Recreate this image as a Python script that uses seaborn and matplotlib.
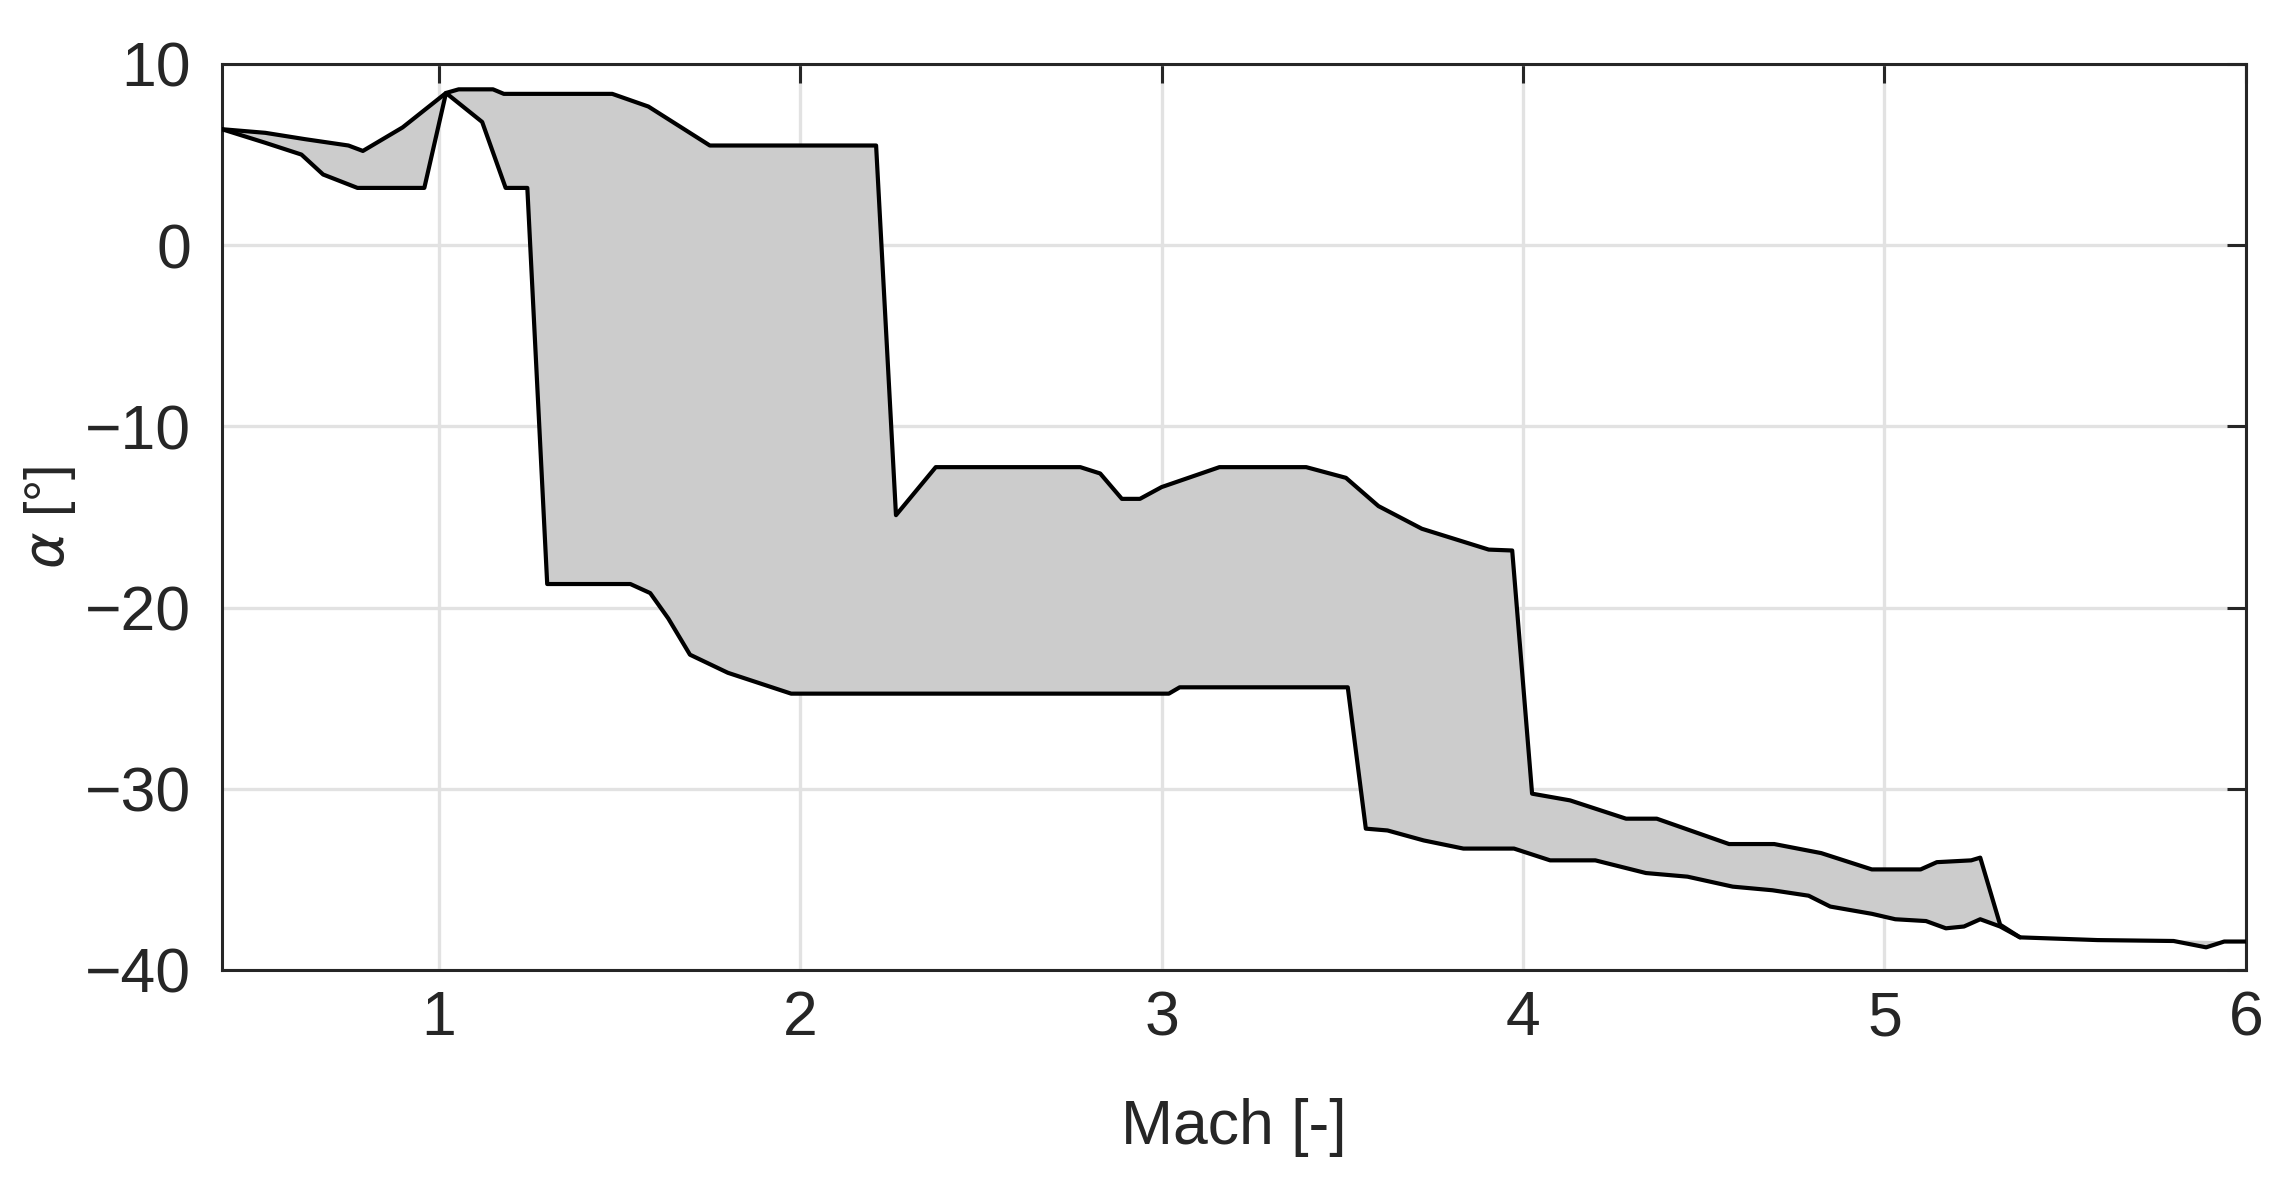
import numpy as np
import pandas as pd
import matplotlib
matplotlib.use("Agg")
import matplotlib.pyplot as plt
import seaborn as sns

# ---- data ----
mach_upper = [0.40, 0.52, 0.63, 0.75, 0.79, 0.90, 1.02, 1.055, 1.15, 1.18, 1.48, 1.58, 1.75,
              2.21, 2.265, 2.375, 2.775, 2.83, 2.89, 2.94, 3.00, 3.16, 3.40, 3.51, 3.60,
              3.72, 3.905, 3.97, 4.025, 4.13, 4.285, 4.37, 4.57, 4.695, 4.825, 4.965, 5.10,
              5.145, 5.24, 5.265, 5.32, 5.375, 5.59, 5.80, 5.89, 5.94, 6.00]
alpha_upper = [6.4, 6.2, 5.85, 5.5, 5.2, 6.5, 8.4, 8.6, 8.6, 8.35, 8.35, 7.65, 5.5,
               5.5, -14.9, -12.25, -12.25, -12.6, -14.0, -14.0, -13.35, -12.25, -12.25, -12.84, -14.4,
               -15.65, -16.8, -16.85, -30.27, -30.64, -31.65, -31.65, -33.05, -33.05, -33.55, -34.45, -34.45,
               -34.05, -33.95, -33.8, -37.5, -38.2, -38.35, -38.4, -38.75, -38.43, -38.43]

mach_lower = [0.40, 0.52, 0.62, 0.68, 0.775, 0.96, 1.02, 1.12, 1.185, 1.245, 1.30, 1.53,
              1.585, 1.635, 1.695, 1.80, 1.975, 3.02, 3.05, 3.515, 3.565, 3.625, 3.725,
              3.835, 3.975, 4.075, 4.20, 4.34, 4.455, 4.58, 4.69, 4.79, 4.85, 4.965, 5.03,
              5.115, 5.17, 5.22, 5.265, 5.32, 5.375]
alpha_lower = [6.4, 5.65, 5.0, 3.9, 3.16, 3.16, 8.4, 6.8, 3.16, 3.16, -18.7, -18.7,
               -19.2, -20.6, -22.6, -23.6, -24.75, -24.75, -24.4, -24.4, -32.2, -32.3, -32.85,
               -33.3, -33.3, -33.95, -33.95, -34.65, -34.85, -35.4, -35.6, -35.9, -36.5, -36.9, -37.2,
               -37.3, -37.7, -37.6, -37.2, -37.6, -38.2]

x_ticks = [1, 2, 3, 4, 5, 6]
y_ticks = [-40, -30, -20, -10, 0, 10]

# ---- style ----
sns.set_theme(style="whitegrid")
plt.rcParams['font.family'] = ['Liberation Sans', 'DejaVu Sans']
plt.rcParams['axes.unicode_minus'] = True

fig = plt.figure(figsize=(22.95, 11.89), dpi=100)
ax = fig.add_axes([0.0967, 0.1842, 0.8819, 0.7620])

upper = pd.DataFrame({"Mach": mach_upper, "alpha": alpha_upper})
lower = pd.DataFrame({"Mach": mach_lower, "alpha": alpha_lower})

poly_x = np.concatenate([upper["Mach"].values, lower["Mach"].values[::-1]])
poly_y = np.concatenate([upper["alpha"].values, lower["alpha"].values[::-1]])
ax.fill(poly_x, poly_y, color="#cccccc", linewidth=0, zorder=2)

sns.lineplot(data=upper, x="Mach", y="alpha", sort=False, estimator=None,
             color="black", linewidth=3.0, ax=ax, zorder=3)
sns.lineplot(data=lower, x="Mach", y="alpha", sort=False, estimator=None,
             color="black", linewidth=3.0, ax=ax, zorder=3)

ax.set_xlim(0.4, 6)
ax.set_ylim(-40, 10)
ax.set_xticks(x_ticks)
ax.set_yticks(y_ticks)

dark = "#262626"
ax.grid(True, color="#e2e2e2", linewidth=2.4)
ax.set_axisbelow(True)
for s in ax.spines.values():
    s.set_visible(True)
    s.set_color(dark)
    s.set_linewidth(2.2)
ax.set_facecolor("white")
ax.tick_params(axis="both", which="major", direction="in", length=14, width=2.2,
               colors=dark, labelsize=45, top=True, right=True,
               labelcolor=dark)
ax.tick_params(axis="x", pad=14)
ax.tick_params(axis="y", pad=22)

ax.set_xlabel("Mach [-]", fontsize=45, color=dark, labelpad=36)
ax.set_ylabel(r"$\alpha$ [°]", fontsize=40, color=dark)
ax.yaxis.set_label_coords(-0.071, 0.5)

fig.savefig("out.png", dpi=100, facecolor="white")
